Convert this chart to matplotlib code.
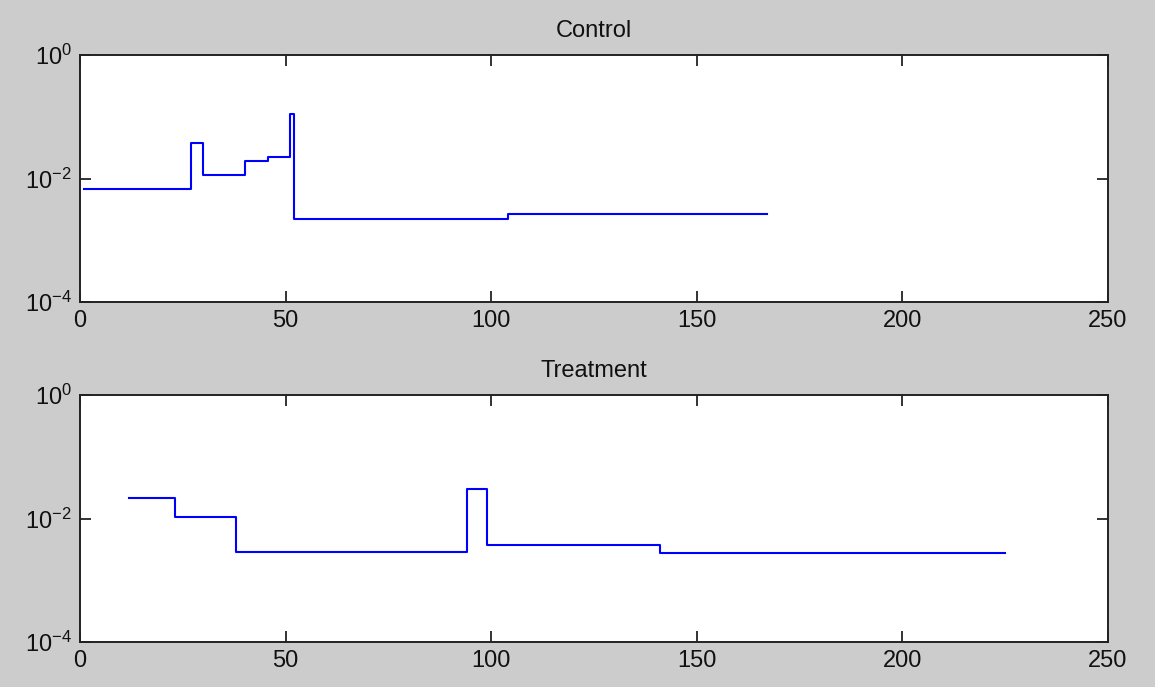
import matplotlib.pyplot as plt
from matplotlib.ticker import LogLocator, NullLocator

plt.rcParams['font.family'] = ['Liberation Sans', 'DejaVu Sans']

# step edges (x) and the level held from each edge to the next
control_x = [1, 27, 30, 40, 45.6, 51, 52, 104, 167]
control_y = [0.0068, 0.037, 0.0114, 0.0192, 0.022, 0.111, 0.0022, 0.00266]

treat_x = [12, 23, 38, 94, 99, 141, 225]
treat_y = [0.0215, 0.0105, 0.00284, 0.0305, 0.0037, 0.0028]

titles = ['Control', 'Treatment']
xticks = [0, 50, 100, 150, 200, 250]


def panel(ax, xs, ys, title):
    ax.plot(xs, ys + [ys[-1]], drawstyle='steps-post', color='#0000ff', lw=1.5)
    ax.set_yscale('log')
    ax.set_xlim(0, 250)
    ax.set_ylim(1e-4, 1)
    ax.set_xticks(xticks)
    ax.yaxis.set_major_locator(LogLocator(base=10, subs=[1.0], numticks=10))
    ax.set_yticks([1e-4, 1e-2, 1])
    ax.yaxis.set_minor_locator(NullLocator())
    ax.tick_params(direction='in', length=8, width=1.2, top=True, right=True,
                   labelsize=17, pad=6, colors='#111111')
    for s in ax.spines.values():
        s.set_linewidth(1.4)
        s.set_color('#222222')
    ax.set_title(title, fontsize=17, pad=13, color='#111111')
    ax.set_facecolor('white')


fig = plt.figure(figsize=(11.55, 6.87), dpi=100, facecolor='#cccccc')
ax1 = fig.add_axes([0.0693, 0.5604, 0.890, 0.3595])
ax2 = fig.add_axes([0.0693, 0.0655, 0.890, 0.3595])

panel(ax1, control_x, control_y, titles[0])
panel(ax2, treat_x, treat_y, titles[1])

fig.savefig('out.png', dpi=100, facecolor=fig.get_facecolor())
